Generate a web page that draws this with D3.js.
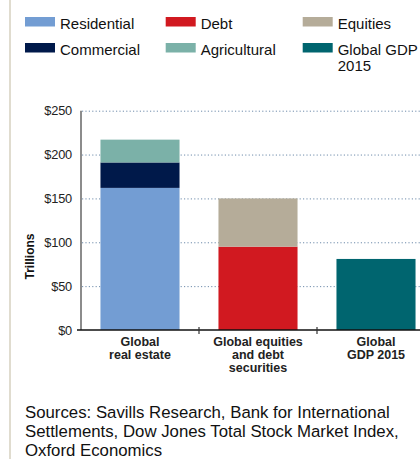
<!DOCTYPE html>
<html>
<head>
<meta charset="utf-8">
<script src="https://cdn.jsdelivr.net/npm/d3@7"></script>
<style>
  html, body { margin: 0; padding: 0; background: #fff; overflow: hidden; }
  svg { display: block; }
  text { font-family: "Liberation Sans", Arial, Helvetica, sans-serif; }
</style>
</head>
<body>
<svg id="chart" width="420" height="459"></svg>
<script>
// ---- data ----
const categories = ["Global real estate", "Global equities and debt securities", "Global GDP 2015"];
const categoryLabelLines = [["Global", "real estate"], ["Global equities", "and debt", "securities"], ["Global", "GDP 2015"]];
const seriesNames = ["Residential", "Commercial", "Agricultural", "Debt", "Equities", "Global GDP 2015"];
const residential = [162, 0, 0];
const commercial = [29, 0, 0];
const agricultural = [26, 0, 0];
const debt = [0, 95, 0];
const equities = [0, 55, 0];
const globalGdp = [0, 0, 81];
const yTicks = [0, 50, 100, 150, 200, 250];
const yTickLabels = ["$0", "$50", "$100", "$150", "$200", "$250"];
const yTitle = "Trillions";
const sourceLines = [
  "Sources: Savills Research, Bank for International",
  "Settlements, Dow Jones Total Stock Market Index,",
  "Oxford Economics"
];
// legend order (row-major, 3 columns)
const legendOrder = ["Residential", "Debt", "Equities", "Commercial", "Agricultural", "Global GDP 2015"];
const legendLabels = { "Residential": ["Residential"], "Debt": ["Debt"], "Equities": ["Equities"],
  "Commercial": ["Commercial"], "Agricultural": ["Agricultural"], "Global GDP 2015": ["Global GDP", "2015"] };

const colors = {
  "Residential": "#739dd3",
  "Commercial": "#00194a",
  "Agricultural": "#7bb1a8",
  "Debt": "#d11920",
  "Equities": "#b5ac99",
  "Global GDP 2015": "#00656f"
};

const seriesValues = [residential, commercial, agricultural, debt, equities, globalGdp];
const table = categories.map((c, i) => {
  const row = { category: c };
  seriesNames.forEach((s, j) => row[s] = seriesValues[j][i]);
  return row;
});

const svg = d3.select("#chart");

// left decorative beige rule
svg.append("line").attr("x1", 10).attr("x2", 10).attr("y1", 0).attr("y2", 459)
  .attr("stroke", "#d9d4c3").attr("stroke-width", 1.6);

// ---- scales ----
const x = d3.scaleBand().domain(categories).range([81, 435]).padding(0);
const y = d3.scaleLinear().domain([0, 250]).range([330, 110.7]);
const barInset = x.bandwidth() * 0.165;
const barWidth = x.bandwidth() - 2 * barInset;

// gridlines
svg.append("g").selectAll("line").data(yTicks.filter(t => t > 0)).join("line")
  .attr("x1", 82).attr("x2", 420)
  .attr("y1", d => y(d) + 0.5).attr("y2", d => y(d) + 0.5)
  .attr("stroke", "#6f8cab").attr("stroke-width", 1)
  .attr("stroke-dasharray", "1.2,2.2");

// bars
const stack = d3.stack().keys(seriesNames)(table);
svg.append("g").selectAll("g").data(stack).join("g")
  .attr("fill", d => colors[d.key])
  .selectAll("rect").data(d => d.filter(p => p[1] - p[0] > 0)).join("rect")
  .attr("x", d => x(d.data.category) + barInset)
  .attr("width", barWidth)
  .attr("y", d => y(d[1]))
  .attr("height", d => y(d[0]) - y(d[1]));

// y axis line
svg.append("line").attr("x1", 81).attr("x2", 81).attr("y1", y(250)).attr("y2", y(0))
  .attr("stroke", "#666").attr("stroke-width", 1.5);

// x axis line
svg.append("line").attr("x1", 77).attr("x2", 420).attr("y1", y(0)).attr("y2", y(0))
  .attr("stroke", "#111").attr("stroke-width", 1.4);

// x ticks at band boundaries
svg.append("g").selectAll("line").data(categories.slice(1)).join("line")
  .attr("x1", d => x(d)).attr("x2", d => x(d))
  .attr("y1", y(0) - 3).attr("y2", y(0) + 4)
  .attr("stroke", "#333").attr("stroke-width", 1.2);

// y tick labels
svg.append("g").selectAll("text").data(yTicks).join("text")
  .attr("x", 72).attr("y", d => y(d) + 4.5)
  .attr("text-anchor", "end")
  .attr("font-size", 12.8).attr("fill", "#222")
  .attr("letter-spacing", -0.2)
  .text((d, i) => yTickLabels[i]);

// y title
svg.append("text")
  .attr("transform", `translate(34,256.5) rotate(-90)`)
  .attr("text-anchor", "middle")
  .attr("font-size", 12).attr("font-weight", "bold").attr("fill", "#111")
  .text(yTitle);

// category labels
const catG = svg.append("g").selectAll("text").data(categories).join("text")
  .attr("text-anchor", "middle")
  .attr("font-size", 12.5).attr("font-weight", "bold").attr("fill", "#222");
catG.selectAll("tspan").data((d, i) => categoryLabelLines[i].map(l => ({ l, c: d }))).join("tspan")
  .attr("x", d => x(d.c) + x.bandwidth() / 2)
  .attr("y", (d, i) => 346 + i * 13)
  .text(d => d.l);

// legend
const legendX = [25, 165.7, 302.7];
const legendY = [17, 43];
const lg = svg.append("g").selectAll("g").data(legendOrder).join("g")
  .attr("transform", (d, i) => `translate(${legendX[i % 3]},${legendY[Math.floor(i / 3)]})`);
lg.append("rect").attr("width", 30).attr("height", 9.5).attr("fill", d => colors[d]);
lg.append("text").attr("font-size", 15).attr("fill", "#111")
  .selectAll("tspan").data(d => legendLabels[d]).join("tspan")
  .attr("x", 35).attr("y", (d, i) => 12 + i * 16)
  .text(d => d);

// sources
svg.append("g").selectAll("text").data(sourceLines).join("text")
  .attr("x", 25).attr("y", (d, i) => 418 + i * 19)
  .attr("font-size", 16.8).attr("fill", "#111")
  .text(d => d);
</script>
</body>
</html>
